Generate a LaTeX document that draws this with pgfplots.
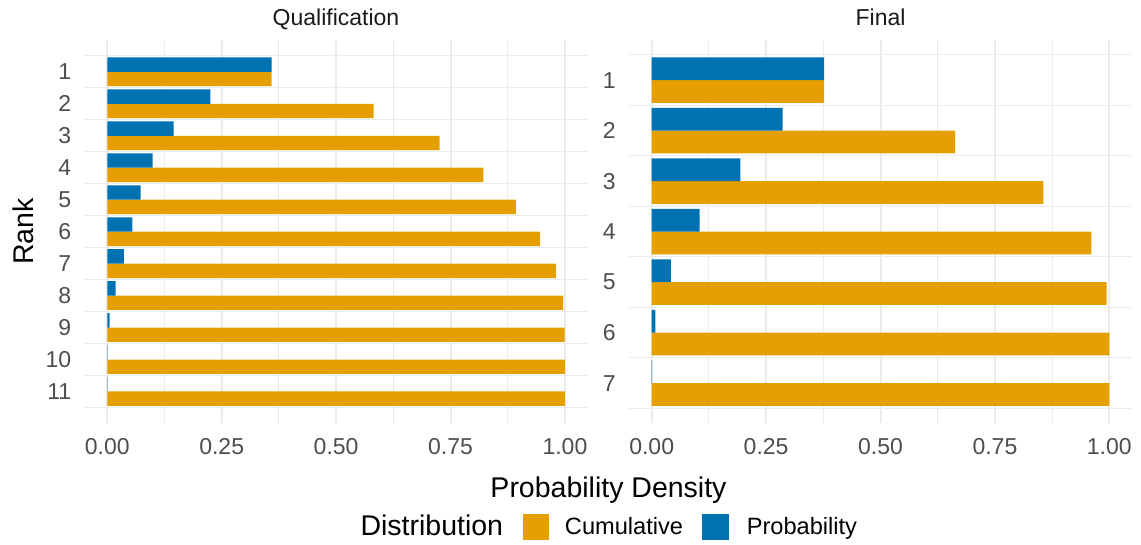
\documentclass[border=0pt]{standalone}
\usepackage{fontspec}
\setmainfont{Liberation Sans}
\usepackage{pgfplots}
\pgfplotsset{compat=1.18}

\definecolor{cumorange}{HTML}{E69F00}
\definecolor{probblue}{HTML}{0072B2}
\definecolor{gridgrey}{HTML}{EBEBEB}
\definecolor{ticktext}{HTML}{4D4D4D}
\definecolor{striptext}{HTML}{1A1A1A}

\newcommand{\ticksize}{\fontsize{11.5}{13}\selectfont}
\newcommand{\legsize}{\fontsize{11.8}{13}\selectfont}
\newcommand{\titlesize}{\fontsize{14.25}{17}\selectfont}

\pgfplotsset{
  facet/.style={
    anchor=south west, scale only axis,
    width=251.7pt, height=191.65pt,
    xmin=-0.05, xmax=1.05, y dir=reverse,
    axis line style={draw=none}, tick style={draw=none},
    major tick length=0pt, minor tick length=0pt,
    /pgf/number format/assume math mode=true,
    xtick={0,0.25,0.5,0.75,1},
    xticklabels={0.00,0.25,0.50,0.75,1.00},
    minor xtick={0.125,0.375,0.625,0.875},
    xmajorgrids, xminorgrids, yminorgrids,
    major grid style={gridgrey, line width=1pt},
    minor grid style={gridgrey, line width=0.5pt},
    tick label style={font=\ticksize, text=ticktext, inner sep=0pt},
    xticklabel style={anchor=north, yshift=-7.35pt},
    yticklabel style={anchor=east, xshift=-6.4pt},
  },
  prob/.style={xbar, bar width=0.45, bar shift=-0.225, fill=probblue, draw=none, forget plot},
  cum/.style={xbar, bar width=0.45, bar shift=0.225, fill=cumorange, draw=none, forget plot},
}

\begin{document}
\begin{tikzpicture}
\path[use as bounding box] (0pt,0pt) rectangle (570.5pt,-272.5pt);

% Qualification
\begin{axis}[facet, at={(42.2pt,-211.65pt)},
  ymin=0.005, ymax=11.995,
  ytick={1,...,11}, minor ytick={0.5,1.5,...,11.5},
  legend columns=3,
  legend image code/.code={\fill[#1] (0pt,-6.65pt) rectangle (13.3pt,6.65pt);},
  legend style={at={(0.5485,-0.2705)}, anchor=west, draw=none, fill=none,
    inner sep=0pt, outer sep=0pt, font=\legsize,
    nodes={inner sep=0pt, anchor=west},
    /tikz/column 2/.style={column sep=9.75pt},
    /tikz/column 3/.style={column sep=7.9pt},
    /tikz/column 4/.style={column sep=9.7pt},
    /tikz/column 5/.style={column sep=8.9pt}},
]
\addplot[cum] coordinates {
  (0.359,1) (0.582,2) (0.726,3) (0.822,4) (0.893,5) (0.946,6)
  (0.981,7) (0.996,8) (0.9995,9) (1.0,10) (1.0,11)
};
\addplot[prob] coordinates {
  (0.359,1) (0.225,2) (0.145,3) (0.099,4) (0.073,5) (0.055,6)
  (0.036,7) (0.018,8) (0.005,9) (0.001,10) (0.0005,11)
};
\addlegendimage{empty legend}
\addlegendentry{\titlesize Distribution}
\addlegendimage{fill=cumorange, draw=none}
\addlegendentry{Cumulative}
\addlegendimage{fill=probblue, draw=none}
\addlegendentry{Probability}
\end{axis}

% Final
\begin{axis}[facet, at={(314.4pt,-211.65pt)},
  ymin=0.205, ymax=7.795,
  ytick={1,...,7}, minor ytick={0.5,1.5,...,7.5},
]
\addplot[cum] coordinates {
  (0.377,1) (0.663,2) (0.856,3) (0.961,4) (0.994,5) (1.0,6) (1.0,7)
};
\addplot[prob] coordinates {
  (0.377,1) (0.286,2) (0.194,3) (0.105,4) (0.042,5) (0.008,6) (0.001,7)
};
\end{axis}

\node[font=\ticksize, text=striptext, anchor=base] at (168pt,-13pt) {Qualification};
\node[font=\ticksize, text=striptext, anchor=base] at (440.3pt,-13pt) {Final};
\node[font=\titlesize, anchor=base] at (304.25pt,-248.5pt) {Probability Density};
\node[font=\titlesize, anchor=base, rotate=90] at (16.5pt,-115.75pt) {Rank};
\end{tikzpicture}
\end{document}
